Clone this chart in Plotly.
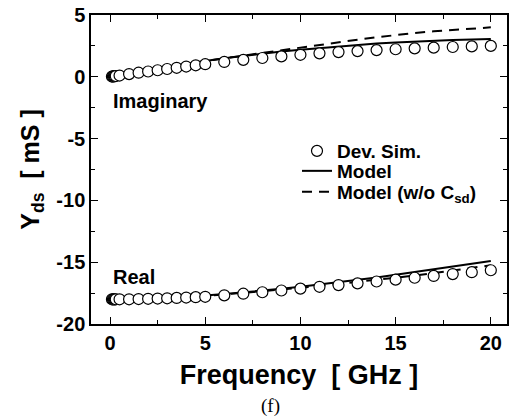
import plotly.graph_objects as go

# Device simulation (circles)
f_dev = [0.1, 0.15, 0.2, 0.25, 0.3, 0.5, 1.0, 1.5, 2.0, 2.5, 3.0, 3.5, 4.0, 4.5, 5.0,
         6, 7, 8, 9, 10, 11, 12, 13, 14, 15, 16, 17, 18, 19, 20]
imag_dev = [0.02, 0.03, 0.04, 0.05, 0.06, 0.1, 0.22, 0.33, 0.43, 0.53, 0.63, 0.73, 0.83, 0.93, 1.02,
            1.2, 1.37, 1.52, 1.65, 1.78, 1.9, 2.0, 2.08, 2.16, 2.23, 2.3, 2.36, 2.41, 2.46, 2.5]
real_dev = [-18.0, -18.0, -18.0, -18.0, -18.0, -18.0, -18.0, -17.98, -17.96, -17.94, -17.92, -17.89, -17.86, -17.83, -17.8,
            -17.68, -17.55, -17.43, -17.29, -17.14, -16.99, -16.85, -16.71, -16.56, -16.41, -16.26, -16.11, -15.96, -15.81, -15.65]

# Model curves
f_mod = [1, 2, 3, 4, 5, 6, 7, 8, 9, 10, 11, 12, 13, 14, 15, 16, 17, 18, 19, 20]
imag_mod = [0.25, 0.52, 0.78, 1.03, 1.27, 1.5, 1.7, 1.88, 2.04, 2.19, 2.33, 2.46, 2.58, 2.69, 2.78, 2.86, 2.93, 2.98, 3.02, 3.05]
real_mod = [-18.0, -17.93, -17.86, -17.78, -17.7, -17.58, -17.45, -17.31, -17.15, -16.98, -16.8, -16.62, -16.43, -16.23, -16.02, -15.8, -15.58, -15.36, -15.13, -14.9]
imag_nocsd = [0.25, 0.52, 0.78, 1.03, 1.27, 1.5, 1.72, 1.95, 2.17, 2.38, 2.6, 2.8, 3.0, 3.2, 3.38, 3.54, 3.68, 3.8, 3.91, 4.0]
real_nocsd = [-18.0, -17.94, -17.87, -17.8, -17.72, -17.61, -17.49, -17.36, -17.22, -17.07, -16.92, -16.76, -16.6, -16.44, -16.26, -16.08, -15.88, -15.68, -15.46, -15.25]

x_ticks = [0, 5, 10, 15, 20]
x_ticktext = ["0", "5", "10", "15", "20"]
y_ticks = [-20, -15, -10, -5, 0, 5]
y_ticktext = ["-20", "-15", "-10", "-5", "0", "5"]

FONT = "Liberation Sans, Arial, sans-serif"
BOLD = dict(family=FONT, color="black", weight="bold")

fig = go.Figure()
fig.add_trace(go.Scatter(x=f_mod, y=imag_nocsd, mode="lines", name="Model (w/o C<sub>sd</sub>)",
                         line=dict(color="black", width=2, dash="10px,7px"), legend="legend3"))
fig.add_trace(go.Scatter(x=f_mod, y=real_nocsd, mode="lines", showlegend=False,
                         line=dict(color="black", width=2, dash="10px,7px")))
fig.add_trace(go.Scatter(x=f_mod, y=imag_mod, mode="lines", name="Model",
                         line=dict(color="black", width=2), legend="legend2"))
fig.add_trace(go.Scatter(x=f_mod, y=real_mod, mode="lines", showlegend=False,
                         line=dict(color="black", width=2)))
fig.add_trace(go.Scatter(x=f_dev, y=imag_dev, mode="markers", name="Dev. Sim.",
                         marker=dict(symbol="circle", size=11, color="white",
                                     line=dict(width=1.2, color="black")), legend="legend"))
fig.add_trace(go.Scatter(x=f_dev, y=real_dev, mode="markers", showlegend=False,
                         marker=dict(symbol="circle", size=11, color="white",
                                     line=dict(width=1.2, color="black"))))

axis_common = dict(showline=True, linecolor="black", linewidth=1.5, mirror="allticks",
                   ticks="inside", ticklen=7, tickwidth=1.2, tickcolor="black",
                   showgrid=False, zeroline=False, automargin=False,
                   tickfont=dict(size=20, **BOLD))

# plot area in pixels: left 91, right 507, top 15, bottom 324
def py(ypix):
    return 1 - (ypix - 15) / 309

def px(xpix):
    return (xpix - 91) / 416

leg_common = dict(xanchor="left", yanchor="middle", bgcolor="rgba(0,0,0,0)",
                  font=dict(size=19, **BOLD), borderwidth=0)

fig.update_layout(
    width=513, height=418,
    margin=dict(l=91, r=6, t=15, b=94),
    plot_bgcolor="white", paper_bgcolor="white",
    showlegend=True,
    legend=dict(x=px(297), y=py(151), **leg_common),
    legend2=dict(x=px(297), y=py(171), **leg_common),
    legend3=dict(x=px(297), y=py(192), **leg_common),
    xaxis=dict(range=[-1.0, 20.85], tickvals=x_ticks, ticktext=x_ticktext,
               minor=dict(dtick=2.5, tick0=0, ticklen=4, ticks="inside", tickcolor="black"),
               title=dict(text="Frequency\u00a0\u00a0[ GHz ]", font=dict(size=27, **BOLD), standoff=12),
               **axis_common),
    yaxis=dict(range=[-20, 5], tickvals=y_ticks, ticktext=y_ticktext,
               minor=dict(dtick=2.5, tick0=0, ticklen=4, ticks="inside", tickcolor="black"),
               title=dict(text="Y<sub>ds</sub>\u00a0\u00a0[ mS ]", font=dict(size=25, **BOLD), standoff=10),
               **axis_common),
    annotations=[
        dict(x=0.05, y=-1.95, xref="x", yref="y", text="Imaginary", showarrow=False,
             xanchor="left", yanchor="middle", font=dict(size=20, **BOLD)),
        dict(x=0.05, y=-16.2, xref="x", yref="y", text="Real", showarrow=False,
             xanchor="left", yanchor="middle", font=dict(size=20, **BOLD)),
        dict(x=px(270), y=py(406), xref="paper", yref="paper", text="(f)", showarrow=False,
             xanchor="center", yanchor="middle",
             font=dict(family="Liberation Serif, Times New Roman, serif", size=19, color="black")),
    ],
)

fig.write_html("out.html")
